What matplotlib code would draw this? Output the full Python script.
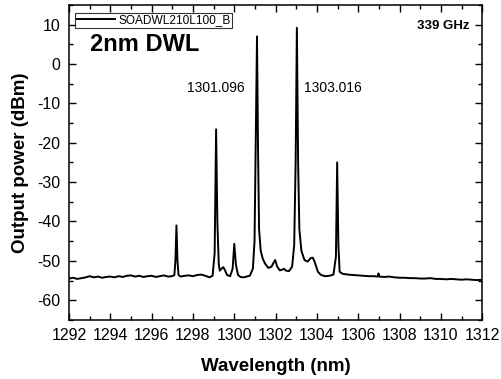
import matplotlib
matplotlib.use('Agg')
import matplotlib.pyplot as plt
from matplotlib.ticker import MultipleLocator

plt.rcParams['font.family'] = ['Liberation Sans', 'DejaVu Sans']
plt.rcParams['axes.unicode_minus'] = False

# Spectrum (wavelength in nm, power in dBm)
wavelength = [
    1292.0, 1292.2, 1292.4, 1292.6, 1292.8, 1293.0, 1293.2, 1293.4, 1293.6, 1293.8,
    1294.0, 1294.2, 1294.4, 1294.6, 1294.8, 1295.0, 1295.2, 1295.4, 1295.6, 1295.8,
    1296.0, 1296.2, 1296.4, 1296.6, 1296.8, 1297.0, 1297.1,
    1297.15, 1297.2, 1297.25, 1297.3,
    1297.4, 1297.6, 1297.8, 1298.0, 1298.2, 1298.4, 1298.6, 1298.8,
    1298.95, 1299.05, 1299.12, 1299.18, 1299.25, 1299.3, 1299.38, 1299.47, 1299.55,
    1299.65, 1299.8, 1299.92, 1300.0, 1300.08, 1300.18, 1300.3, 1300.45, 1300.6,
    1300.75, 1300.9, 1300.98, 1301.04, 1301.1, 1301.15, 1301.2, 1301.28, 1301.38,
    1301.5, 1301.65, 1301.8, 1301.9, 1301.98, 1302.08, 1302.2, 1302.3, 1302.41,
    1302.5, 1302.65, 1302.8, 1302.9, 1302.97, 1303.03, 1303.09, 1303.15, 1303.25,
    1303.4, 1303.55, 1303.7, 1303.8, 1303.9, 1304.05, 1304.2, 1304.4, 1304.6,
    1304.8, 1304.92, 1304.98, 1305.04, 1305.1, 1305.25, 1305.5, 1305.75, 1306.0,
    1306.25, 1306.5, 1306.75, 1306.95, 1306.98, 1307.02, 1307.25, 1307.5, 1307.75,
    1308.0, 1308.25, 1308.5, 1308.75, 1309.0, 1309.25, 1309.5, 1309.75, 1310.0,
    1310.25, 1310.5, 1310.75, 1311.0, 1311.25, 1311.5, 1311.75, 1312.0,
]
power = [
    -54.5, -54.3, -54.6, -54.4, -54.2, -53.9, -54.2, -54.0, -54.3, -54.1,
    -54.0, -54.2, -53.9, -54.1, -53.8, -53.7, -54.0, -53.8, -54.1, -53.9,
    -53.8, -54.1, -53.9, -53.7, -54.0, -53.9, -53.6,
    -50.0, -41.0, -50.0, -53.6,
    -54.0, -53.8, -53.7, -53.9, -53.6, -53.5, -53.8, -54.2,
    -53.8, -48.0, -16.6, -40.0, -51.0, -52.5, -52.0, -51.6, -52.4,
    -53.6, -53.9, -52.0, -45.7, -51.0, -53.6, -54.1, -54.2, -54.0,
    -53.8, -52.0, -45.0, -20.0, 7.0, -22.0, -42.0, -47.5, -49.5,
    -50.8, -51.8, -51.5, -50.5, -49.8, -51.5, -52.4, -52.3, -52.0,
    -52.5, -52.6, -51.5, -46.0, -25.0, 9.2, -25.0, -42.0, -47.5,
    -49.8, -50.2, -49.3, -49.2, -50.4, -52.8, -53.6, -53.9, -53.8,
    -53.5, -49.0, -25.0, -46.0, -52.8, -53.3, -53.5, -53.6, -53.7,
    -53.8, -53.9, -53.9, -54.0, -53.2, -54.0, -54.1, -54.0, -54.2,
    -54.3, -54.3, -54.4, -54.4, -54.5, -54.5, -54.4, -54.6, -54.6,
    -54.7, -54.6, -54.7, -54.8, -54.7, -54.8, -54.9, -54.8,
]

fig = plt.figure(figsize=(5.02, 3.79), dpi=100)
ax = fig.add_axes([0.1375, 0.156, 0.823, 0.831])

ax.plot(wavelength, power, color='black', linewidth=1.4, label='SOADWL210L100_B')

ax.set_xlim(1292, 1312)
ax.set_ylim(-65, 15)
ax.xaxis.set_major_locator(MultipleLocator(2))
ax.xaxis.set_minor_locator(MultipleLocator(1))
ax.yaxis.set_major_locator(MultipleLocator(10))
ax.yaxis.set_minor_locator(MultipleLocator(5))
ax.tick_params(which='both', direction='in', top=True, right=True,
               labeltop=False, labelright=False, width=1.0)
ax.tick_params(which='major', length=5, labelsize=11.5, pad=6)
ax.tick_params(which='minor', length=3)
for s in ax.spines.values():
    s.set_linewidth(1.1)

ax.set_xlabel('Wavelength (nm)', fontsize=13.5, fontweight='bold', labelpad=11)
ax.set_ylabel('Output power (dBm)', fontsize=13.5, fontweight='bold', labelpad=6)

ax.text(0.05, 0.875, '2nm DWL', transform=ax.transAxes, fontsize=17,
        fontweight='bold', va='center', ha='left')
ax.text(0.97, 0.933, '339 GHz', transform=ax.transAxes, fontsize=9.5,
        fontweight='bold', va='center', ha='right')
ax.text(1299.1, -6.2, '1301.096', fontsize=10, ha='center', va='center')
ax.text(1304.75, -6.2, '1303.016', fontsize=10, ha='center', va='center')

leg = ax.legend(loc='upper left', bbox_to_anchor=(0.015, 0.975), fontsize=8.6,
                frameon=True, fancybox=False, borderpad=0.12,
                handlelength=3.2, handletextpad=0.3, borderaxespad=0.0)
leg.get_frame().set_edgecolor('black')
leg.get_frame().set_linewidth(0.8)

fig.savefig('out.png', dpi=100)
